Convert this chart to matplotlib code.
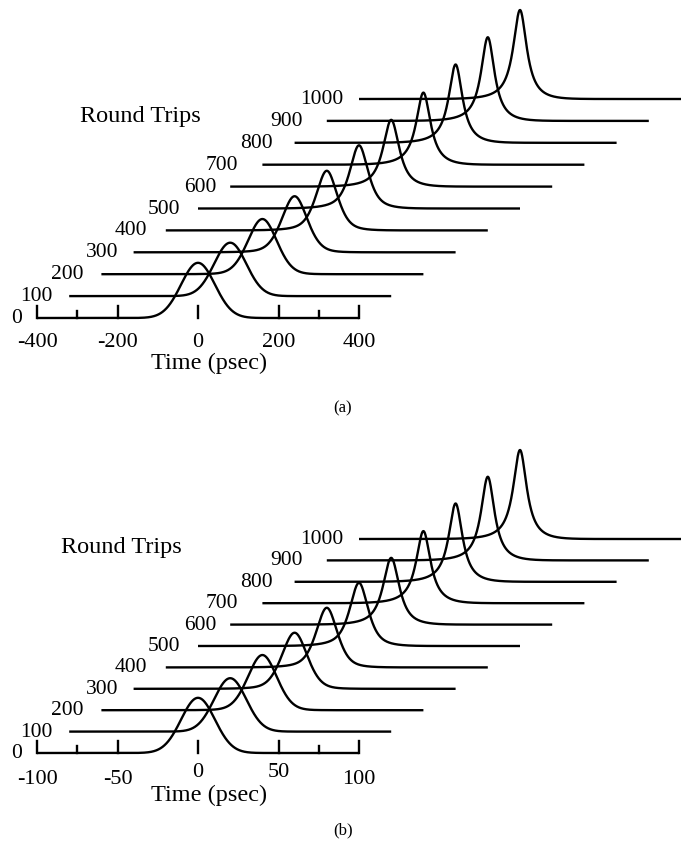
import matplotlib
matplotlib.use('Agg')
import matplotlib.pyplot as plt
import numpy as np

# ---- data ----
round_trips = [0, 100, 200, 300, 400, 500, 600, 700, 800, 900, 1000]
# peak intensity, normalised to the 1000 round-trip pulse
peak_height = [0.62, 0.60, 0.62, 0.63, 0.67, 0.71, 0.75, 0.81, 0.88, 0.94, 1.00]
# pulse FWHM in psec for panel (a); panel (b) is the same shape on a 4x finer time axis
fwhm_a = [99, 94, 86, 76, 64, 56, 49, 44, 42, 41, 41]
# how far the shape has gone from gaussian (0) to the sharp peaked form (1)
peak_mix = [0.0, 0.0, 0.15, 0.35, 0.55, 0.75, 0.9, 1.0, 1.0, 1.0, 1.0]

ticks_a = [-400, -200, 0, 200, 400]
minor_a = [-300, 300]
ticks_b = [-100, -50, 0, 50, 100]
minor_b = [-75, 75]

# ---- layout ----
W, H = 687, 852
UNIT_PX = 89.0          # pixels per unit intensity
plt.rcParams['font.family'] = ['Liberation Serif', 'DejaVu Serif']
fig = plt.figure(figsize=(W / 100, H / 100), dpi=100)

label_gap_px = [15, 17, 18, 15, 19, 18, 14, 24, 22, 24, 16]


def pulse(t, fwhm, mix, env):
    g = np.exp(-4 * np.log(2) * (t / fwhm) ** 2)
    gam = fwhm / 2.0
    # leading edge (t < 0) carries a longer pedestal than the trailing edge
    env_t = np.where(t < 0, env * 1.35, env)
    lor = 1.0 / (1.0 + (t / gam) ** 2) * np.exp(-(t / env_t) ** 2)
    return (1 - mix) * g + mix * lor


def draw_panel(top_py, bottom_py, base_py, px_per_ps, half, shift, dy_px,
               ticks, minor, tick_top_px, time_top_py, rt_center, rt_base_py):
    zero_px = 198.0
    ax = fig.add_axes([0, 1 - bottom_py / H, 1, (bottom_py - top_py) / H])
    ax.set_xlim(-zero_px / px_per_ps, (W - zero_px) / px_per_ps)
    ax.set_ylim((base_py - bottom_py) / UNIT_PX, (base_py - top_py) / UNIT_PX)
    ax.axis('off')

    def px(x, y):
        return (x - zero_px) / px_per_ps, (base_py - y) / UNIT_PX

    dy = dy_px / UNIT_PX
    scale = half / 400.0
    t = np.linspace(-half, half, 3001)
    for k, rt in enumerate(round_trips):
        y = k * dy + peak_height[k] * pulse(t, fwhm_a[k] * scale, peak_mix[k], 100 * scale)
        ax.plot(t + k * shift, y, color='black', lw=1.7, solid_capstyle='butt')
        x0 = -half + k * shift - label_gap_px[k] / px_per_ps
        ax.text(x0, k * dy - 5 / UNIT_PX, str(rt), ha='right', va='baseline',
                fontsize=15.5)

    for x in ticks:
        ax.plot([x, x], [0, 12 / UNIT_PX], color='black', lw=1.7)
    for x in minor:
        ax.plot([x, x], [0, 7 / UNIT_PX], color='black', lw=1.7)
    for x, top in zip(ticks, tick_top_px):
        ax.text(x, -top / UNIT_PX, str(x), ha='center', va='top', fontsize=16)

    tx, ty = px(209, time_top_py)
    ax.text(tx, ty, 'Time (psec)', ha='center', va='top', fontsize=17.5)
    rx, ry = px(rt_center, rt_base_py)
    ax.text(rx, ry, 'Round Trips', ha='center', va='baseline', fontsize=17.5)
    return ax


draw_panel(0, 426, 318, 0.4025, 400, 80, 21.9, ticks_a, minor_a,
           [15, 15, 15, 15, 15], 353, 140, 122)
draw_panel(426, 852, 753, 1.61, 100, 20, 21.4, ticks_b, minor_b,
           [17, 17, 10, 10, 17], 785, 121, 553)

fig.text(343 / W, 1 - 408 / H, '(a)', ha='center', va='center', fontsize=12)
fig.text(343 / W, 1 - 830 / H, '(b)', ha='center', va='center', fontsize=12)

fig.savefig('out.png', dpi=100)
